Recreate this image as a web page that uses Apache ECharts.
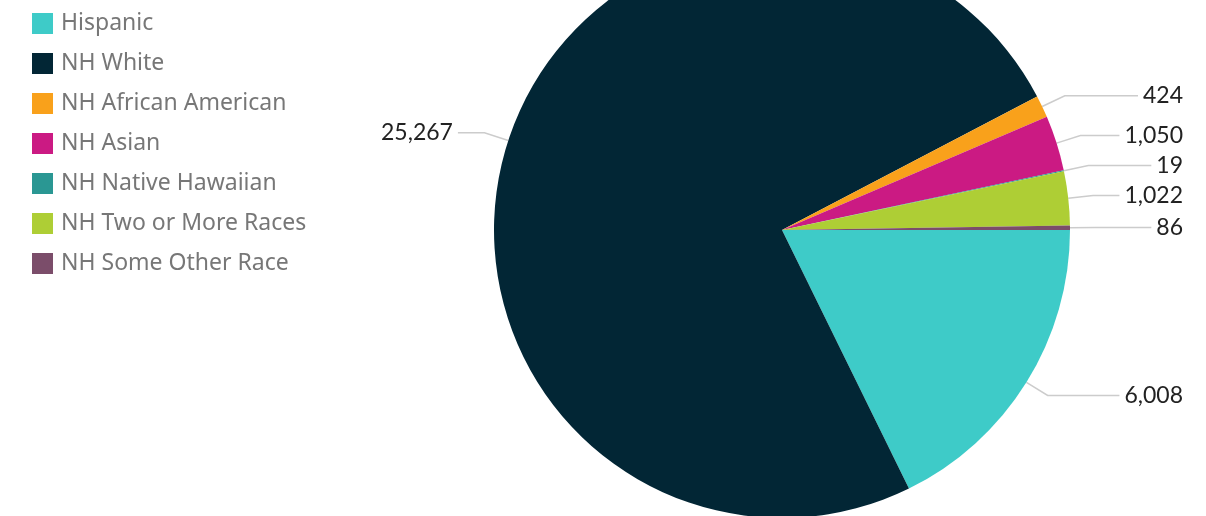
<!DOCTYPE html>
<html>
<head>
    <meta charset="utf-8">
    <title>Population by race</title>
    <script src="https://cdn.jsdelivr.net/npm/echarts@6/dist/echarts.min.js"></script>
    <style>
        html, body { margin: 0; padding: 0; background: #fff; }
    </style>
</head>
<body>
    <div id="main" style="width: 1206px;height:516px;"></div>
    <script type="text/javascript">
        var categories = ['Hispanic', 'NH White', 'NH African American', 'NH Asian',
            'NH Native Hawaiian', 'NH Two or More Races', 'NH Some Other Race'];
        var values = [6008, 25267, 424, 1050, 19, 1022, 86];
        var colors = ['#3ECBC8', '#022635', '#F9A11B', '#CB1A83', '#2A9793', '#AECE35', '#7B4D6A'];

        var myChart = echarts.init(document.getElementById('main'));

        var pieData = categories.map(function (name, i) {
            return { name: name, value: values[i], itemStyle: { color: colors[i] } };
        });

        var option = {
            backgroundColor: '#fff',
            animation: false,
            legend: {
                orient: 'vertical',
                left: 32,
                top: 12,
                padding: 0,
                itemWidth: 21,
                itemHeight: 21,
                itemGap: 17,
                icon: 'rect',
                textStyle: {
                    fontFamily: 'Noto Sans',
                    fontSize: 23,
                    color: '#777',
                    padding: [0, 0, 0, 3]
                },
                data: categories
            },
            series: [{
                type: 'pie',
                left: 358,
                right: 0,
                top: 0,
                bottom: 0,
                center: ['50%', 230],
                radius: [0, 288],
                startAngle: 0,
                clockwise: true,
                itemStyle: { borderWidth: 0 },
                label: {
                    show: true,
                    position: 'outside',
                    alignTo: 'edge',
                    edgeDistance: 23,
                    fontFamily: 'Lato',
                    fontSize: 23,
                    color: '#222',
                    formatter: function (p) {
                        return p.value.toLocaleString('en-US');
                    }
                },
                labelLine: {
                    show: true,
                    length: 25,
                    length2: 15,
                    lineStyle: { color: '#ccc', width: 1.5 }
                },
                emphasis: { disabled: true },
                data: pieData
            }]
        };

        myChart.setOption(option);
    </script>
</body>
</html>
